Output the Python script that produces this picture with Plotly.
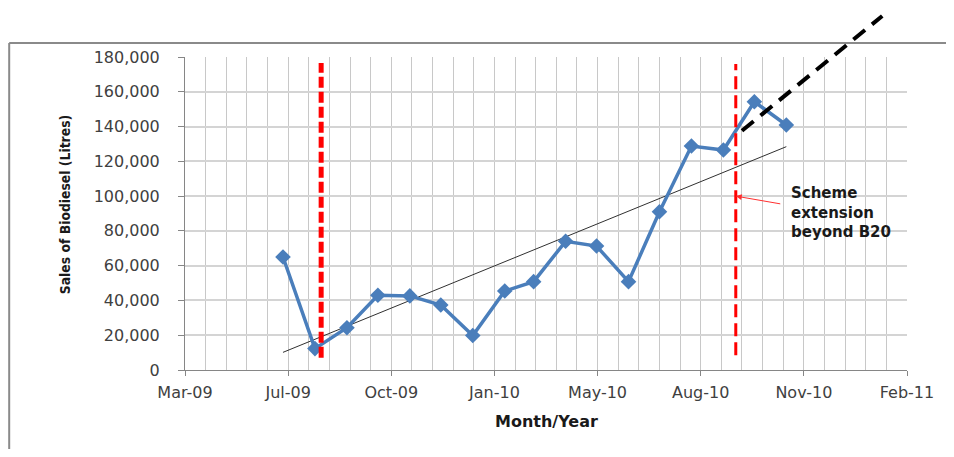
import numpy as np
import pandas as pd
import plotly.graph_objects as go

# ---------------- data ----------------
months = ["2009-07-01", "2009-08-01", "2009-09-01", "2009-10-01", "2009-11-01",
          "2009-12-01", "2010-01-01", "2010-02-01", "2010-03-01", "2010-04-01",
          "2010-05-01", "2010-06-01", "2010-07-01", "2010-08-01", "2010-09-01",
          "2010-10-01", "2010-11-01"]
sales = [65000, 12300, 24300, 43000, 42600, 37400, 19800, 45400, 50800, 74000,
         71300, 50800, 91000, 128800, 126500, 154300, 140900]

event_dates = ["2009-08-07", "2010-09-13"]
event_low = [7000, 8500]
event_high = [176500, 176000]

proj_dates = ["2010-09-19", "2011-02-02"]
proj_values = [137600, 203600]

x_range = ["2009-03-28", "2011-02-26"]
y_range = [0, 180000]
annotation_text = "Scheme<br>extension<br>beyond B20"

# ---------------- derived ----------------
mdates = pd.to_datetime(months)
days = (mdates - mdates[0]).days.values.astype(float)
coef = np.polyfit(days, np.array(sales, dtype=float), 1)
trend_x = [months[0], months[-1]]
trend_y = list(np.polyval(coef, [days[0], days[-1]]))

t0 = pd.Timestamp(x_range[0]).value
t1 = pd.Timestamp(x_range[1]).value


def px(d):
    return (pd.Timestamp(d).value - t0) / (t1 - t0)


def py(v):
    return (v - y_range[0]) / (y_range[1] - y_range[0])


DAY = 86400000

fig = go.Figure()

fig.add_trace(go.Scatter(
    x=trend_x, y=trend_y, mode="lines",
    line=dict(color="#303030", width=1), hoverinfo="skip", showlegend=False))

fig.add_trace(go.Scatter(
    x=months, y=sales, mode="lines+markers",
    line=dict(color="#4A7EBB", width=3.5),
    marker=dict(symbol="diamond", size=12, color="#4A7EBB"),
    showlegend=False))

shapes = []
# outer chart border (left and top edges visible; right/bottom run off the page)
shapes.append(dict(type="line", xref="paper", yref="paper",
                   x0=-0.2435, x1=-0.2435, y0=-0.35, y1=1.0447,
                   line=dict(color="#8a8a8a", width=2)))
shapes.append(dict(type="line", xref="paper", yref="paper",
                   x0=-0.2435, x1=1.3, y0=1.0447, y1=1.0447,
                   line=dict(color="#8a8a8a", width=2)))
# event lines
shapes.append(dict(type="line", xref="x", yref="y",
                   x0=event_dates[0], x1=event_dates[0], y0=event_low[0], y1=event_high[0],
                   line=dict(color="#FF0000", width=5, dash="11px,4px")))
shapes.append(dict(type="line", xref="x", yref="y",
                   x0=event_dates[1], x1=event_dates[1], y0=event_low[1], y1=event_high[1],
                   line=dict(color="#FF0000", width=3, dash="13px,6px")))
# projection line (extends beyond plot area)
shapes.append(dict(type="line", xref="paper", yref="paper",
                   x0=px(proj_dates[0]), x1=px(proj_dates[1]),
                   y0=py(proj_values[0]), y1=py(proj_values[1]),
                   line=dict(color="#000000", width=4, dash="15px,9px")))

annotations = [
    dict(x=event_dates[1], y=100000, xref="x", yref="y", text="",
         showarrow=True, ax=46, ay=8, arrowhead=2, arrowsize=1.2,
         arrowwidth=1, arrowcolor="#FF3030"),
    dict(x="2010-11-04", y=90300, xref="x", yref="y", text=annotation_text,
         showarrow=False, xanchor="left", yanchor="middle", align="left",
         font=dict(family="DejaVu Sans", size=15, color="#1a1a1a", weight="bold")),
    dict(x=0.5, y=-0.165, xref="paper", yref="paper", text="<b>Month/Year</b>",
         showarrow=False, xanchor="center", yanchor="middle",
         font=dict(family="DejaVu Sans", size=16, color="#1a1a1a")),
    dict(x=-0.166, y=0.53, xref="paper", yref="paper",
         text="<b>Sales of Biodiesel (Litres)</b>", textangle=-90,
         showarrow=False, xanchor="center", yanchor="middle",
         font=dict(family="Liberation Sans Narrow, DejaVu Sans Condensed, sans-serif",
                   size=13.8, color="#1a1a1a")),
]

# page body has an 8px margin: figure sized/margined so plot area lands at
# x 185-907, y 57-370 and the page does not overflow the 954x457 window
fig.update_layout(
    width=938, height=441,
    margin=dict(l=177, r=39, t=49, b=79),
    paper_bgcolor="white", plot_bgcolor="white",
    showlegend=False,
    shapes=shapes,
    annotations=annotations,
    xaxis=dict(
        type="date", range=x_range,
        tick0=x_range[0], dtick=100 * DAY, tickformat="%b-%y",
        showgrid=True, gridcolor="#c8c8c8", gridwidth=1,
        minor=dict(tick0=x_range[0], dtick=20 * DAY, showgrid=True,
                   gridcolor="#c8c8c8", gridwidth=1),
        showline=True, linecolor="#868686", linewidth=1,
        ticks="outside", ticklen=5, tickcolor="#868686",
        tickfont=dict(family="DejaVu Sans", size=16, color="#404040"),
        ticklabelstandoff=3, zeroline=False,
    ),
    yaxis=dict(
        range=y_range, dtick=20000, tickformat=",d",
        showgrid=True, gridcolor="#d4d4d4", gridwidth=1.5,
        showline=True, linecolor="#868686", linewidth=1,
        ticks="outside", ticklen=6, tickcolor="#868686",
        tickfont=dict(family="DejaVu Sans", size=16, color="#404040"),
        ticklabelstandoff=15, zeroline=False,
    ),
)

fig.write_html("out.html")
